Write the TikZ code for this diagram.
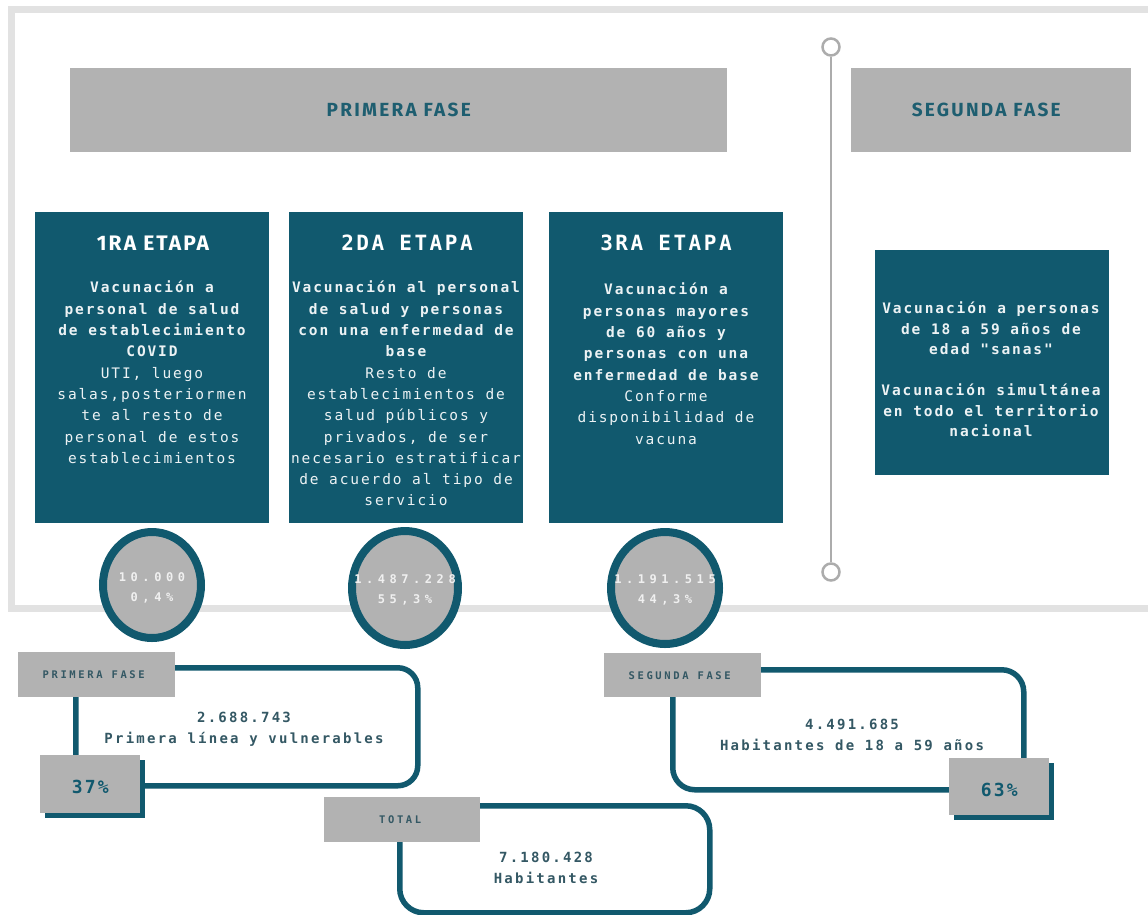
\documentclass[tikz,border=0pt]{standalone}
\usepackage{fontspec}
\usetikzlibrary{shapes.geometric}
\newfontfamily\monobody[LetterSpace=13]{DejaVu Sans Mono}
\newfontfamily\monolow[LetterSpace=16]{DejaVu Sans Mono}
\newfontfamily\monotitle[LetterSpace=12]{DejaVu Sans Mono}
\newfontfamily\monocirc[LetterSpace=38]{DejaVu Sans Mono}
\newfontfamily\monolab[LetterSpace=25]{DejaVu Sans Mono}
\newfontfamily\headfont[LetterSpace=12]{Fira Sans}
\newfontfamily\onefont[LetterSpace=10]{Fira Sans}
\definecolor{tealbox}{RGB}{17,89,110}
\definecolor{grayfill}{RGB}{178,178,178}
\definecolor{framec}{RGB}{226,226,226}
\definecolor{headtxt}{RGB}{30,94,112}
\definecolor{lowtxt}{RGB}{52,88,100}
\definecolor{circtxt}{RGB}{240,240,240}
\definecolor{linegray}{RGB}{172,172,172}
\tikzset{
  etapabox/.style={fill=tealbox, draw=none, anchor=north west, inner sep=0},
  graybox/.style={fill=grayfill, draw=none, anchor=north west, inner sep=0},
  shadowbox/.style={fill=tealbox, draw=none, anchor=north west, inner sep=0},
  headtext/.style={text=headtxt, font=\headfont\bfseries\fontsize{19}{22}\selectfont},
  titletext/.style={text=white, font=\monotitle\bfseries\fontsize{21}{24}\selectfont, inner sep=0},
  bodytext/.style={text=white!92!tealbox, align=center, inner sep=0, anchor=north, font=\monobody\fontsize{14.5}{21.3}\selectfont},
  circ/.style={ellipse, draw=tealbox, line width=8, fill=grayfill, inner sep=0},
  circtext/.style={text=circtxt, align=center, inner sep=0, font=\monocirc\bfseries\fontsize{12}{20}\selectfont},
  loopbox/.style={draw=tealbox, line width=5.5, anchor=north west, inner sep=0},
  labtext/.style={text=lowtxt, font=\monolab\bfseries\fontsize{10.5}{12}\selectfont},
  pcttext/.style={text=tealbox, font=\monotitle\bfseries\fontsize{18}{20}\selectfont},
  lowtext/.style={text=lowtxt, align=center, inner sep=0, font=\monolow\bfseries\fontsize{14}{21}\selectfont},
  markc/.style={draw=linegray, line width=2.5, fill=white, circle, minimum size=17, inner sep=0}
}
\begin{document}
\begin{tikzpicture}[x=1pt,y=-1pt]
\path[use as bounding box] (0,0) rectangle (1148,914);
\clip (0,0) rectangle (1148,914);
\fill[white] (0,0) rectangle (1148,914);
% frame
\draw[framec, line width=7] (11.5,9) rectangle (1170,608.5);
% headers
\node[graybox, minimum width=657, minimum height=84] (h1) at (70,68) {};
\node[headtext] (h1t) at (h1.center) {PRIMERA FASE};
\node[graybox, minimum width=280, minimum height=84] (h2) at (851,68) {};
\node[headtext] (h2t) at ([xshift=-5pt]h2.center) {SEGUNDA FASE};
% timeline
\node[markc] (m1) at (831,47) {};
\node[markc] (m2) at (831,572) {};
\draw[linegray, line width=2.5] (m1) -- (m2);
% etapa boxes
\node[etapabox, minimum width=234, minimum height=311] (e1) at (35,212) {};
\node[etapabox, minimum width=234, minimum height=311] (e2) at (289,212) {};
\node[etapabox, minimum width=234, minimum height=311] (e3) at (549,212) {};
\node[etapabox, minimum width=234, minimum height=225] (e4) at (875,250) {};
\node[text=white, font=\onefont\bfseries\fontsize{21}{24}\selectfont] (t1) at (153,243) {1RA ETAPA};
\node[titletext] (t2) at (407,243) {2DA ETAPA};
\node[titletext] (t3) at (666,243) {3RA ETAPA};
\node[bodytext] (b1) at (152,281) {{\bfseries Vacunación a}\\{\bfseries personal de salud}\\{\bfseries de establecimiento}\\{\bfseries COVID}\\UTI, luego\\salas,posteriormen\\te al resto de\\personal de estos\\establecimientos};
\node[bodytext] (b2) at (406,281) {{\bfseries Vacunación al personal}\\{\bfseries de salud y personas}\\{\bfseries con una enfermedad de}\\{\bfseries base}\\Resto de\\establecimientos de\\salud públicos y\\privados, de ser\\necesario estratificar\\de acuerdo al tipo de\\servicio};
\node[bodytext] (b3) at (666,283) {{\bfseries Vacunación a}\\{\bfseries personas mayores}\\{\bfseries de 60 años y}\\{\bfseries personas con una}\\{\bfseries enfermedad de base}\\Conforme\\disponibilidad de\\vacuna};
\node[bodytext, font=\monobody\bfseries\fontsize{14.5}{20.5}\selectfont] (b4) at (991,302) {Vacunación a personas\\de 18 a 59 años de\\edad "sanas"\\[20.5pt]Vacunación simultánea\\en todo el territorio\\nacional};
% circles
\node[circ, minimum width=98, minimum height=106] (c1) at (152,585) {};
\node[circtext] (c1t) at ([yshift=-3pt]c1.center) {10.000\\0,4\%};
\node[circ, minimum width=106, minimum height=114] (c2) at (405,588) {};
\node[circtext] (c2t) at ([yshift=-2pt]c2.center) {1.487.228\\55,3\%};
\node[circ, minimum width=108, minimum height=112] (c3) at (665,588) {};
\node[circtext] (c3t) at ([yshift=-2pt]c3.center) {1.191.515\\44,3\%};
% bottom loops
\node[loopbox, rounded corners=20, minimum width=342, minimum height=118] (r1) at (73,665) {};
\node[loopbox, rounded corners=22, minimum width=351, minimum height=120] (r2) at (670,667) {};
\node[loopbox, rounded corners=24, minimum width=310, minimum height=107] (r3) at (397,803) {};
\node[lowtext] (r1t) at (244,729.5) {2.688.743\\Primera línea y vulnerables};
\node[lowtext] (r2t) at (852,735) {4.491.685\\Habitantes de 18 a 59 años};
\node[lowtext] (r3t) at (546,867.5) {7.180.428\\Habitantes};
% labels
\node[graybox, minimum width=157, minimum height=45] (l1) at (18,652) {};
\node[labtext] (l1t) at ([xshift=-3pt]l1.center) {PRIMERA FASE};
\node[graybox, minimum width=157, minimum height=44] (l2) at (604,653) {};
\node[labtext] (l2t) at ([xshift=-3pt]l2.center) {SEGUNDA FASE};
\node[graybox, minimum width=156, minimum height=45] (l3) at (324,797) {};
\node[labtext] (l3t) at ([xshift=-2pt]l3.center) {TOTAL};
% percent boxes
\node[shadowbox, minimum width=100, minimum height=58] (p1s) at (45,760) {};
\node[graybox, minimum width=100, minimum height=58] (p1) at (40,755) {};
\node[pcttext] (p1t) at ([yshift=-3pt]p1.center) {37\%};
\node[shadowbox, minimum width=100, minimum height=57] (p2s) at (954,763) {};
\node[graybox, minimum width=100, minimum height=57] (p2) at (949,758) {};
\node[pcttext] (p2t) at ([yshift=-3pt]p2.center) {63\%};
\end{tikzpicture}
\end{document}
